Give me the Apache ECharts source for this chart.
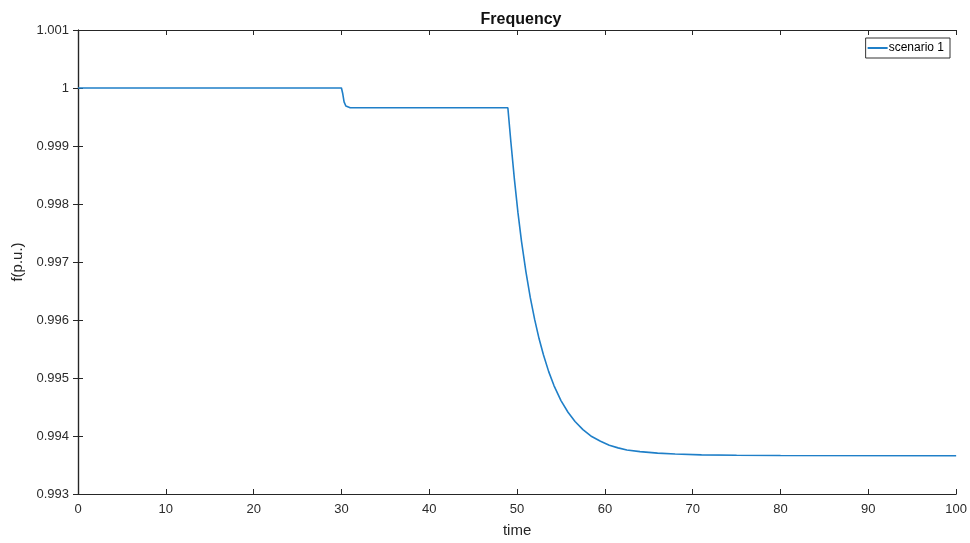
<!DOCTYPE html>
<html>
<head>
<meta charset="utf-8">
<script src="https://cdn.jsdelivr.net/npm/echarts@6/dist/echarts.min.js"></script>
<style>html,body{margin:0;padding:0;background:#fff}#c{width:970px;height:543px}</style>
</head>
<body>
<div id="c"></div>
<script>
const titleText = "Frequency";
const xName = "time";
const yName = "f(p.u.)";
const seriesName = "scenario 1";
const time = [0, 30, 30.15, 30.3, 30.5, 30.7, 31, 31.5, 48.95, 49.3, 49.7, 50.1, 50.5, 51.0, 51.5, 52.0, 52.5, 53.0, 53.6, 54.2, 55.0, 55.8, 56.6, 57.5, 58.5, 59.5, 60.5, 61.5, 62.5, 64, 66, 68, 71, 75, 80, 100];
const freq = [1.0, 1.0, 0.99990, 0.99976, 0.99969, 0.99967, 0.99966, 0.99966, 0.99966, 0.99906, 0.99842, 0.99785, 0.99736, 0.99684, 0.99639, 0.99601, 0.99568, 0.99540, 0.99511, 0.99487, 0.99461, 0.99441, 0.99425, 0.99411, 0.99399, 0.99391, 0.99384, 0.993795, 0.99376, 0.99373, 0.993705, 0.99369, 0.993675, 0.993667, 0.993663, 0.99366];
const xTicks = [0, 10, 20, 30, 40, 50, 60, 70, 80, 90, 100];
const yTicks = [0.993, 0.994, 0.995, 0.996, 0.997, 0.998, 0.999, 1, 1.001];

const chart = echarts.init(document.getElementById('c'));
const axisCol = '#262626';
const fontFam = 'Liberation Sans, Arial, sans-serif';
const labelStyle = { color: '#2b2b2b', fontSize: 13, fontFamily: fontFam };
const fmtY = v => String(parseFloat(Number(v).toFixed(3)));
chart.setOption({
  animation: false,
  title: {
    text: titleText, left: 516, top: 7, textAlign: 'center',
    textStyle: { fontSize: 16, fontWeight: 'bold', color: '#111', fontFamily: fontFam }
  },
  legend: {
    data: [seriesName], right: 20, top: 38,
    orient: 'vertical',
    borderColor: '#333', borderWidth: 1, borderRadius: 0,
    padding: [4, 6, 4, 2], itemWidth: 20, itemHeight: 2, itemGap: 0,
    icon: 'rect',
    textStyle: { fontSize: 12, color: '#000', padding: [0, 0, 0, -4], fontFamily: fontFam }
  },
  grid: { left: 78, right: 13, top: 30, bottom: 47, containLabel: false },
  xAxis: [{
    type: 'value', min: 0, max: 100, interval: 10,
    name: xName, nameLocation: 'middle', nameGap: 29,
    nameTextStyle: { fontSize: 15, color: '#262626', fontFamily: fontFam },
    axisLine: { show: true, lineStyle: { color: axisCol, width: 1.2 } },
    axisTick: { show: true, inside: true, length: 5, lineStyle: { color: axisCol } },
    axisLabel: Object.assign({ margin: 9, showMinLabel: true, showMaxLabel: true }, labelStyle),
    splitLine: { show: false }
  }, {
    type: 'value', min: 0, max: 100, interval: 10, position: 'top',
    axisLine: { show: true, lineStyle: { color: axisCol, width: 1.2 } },
    axisTick: { show: true, inside: true, length: 5, lineStyle: { color: axisCol } },
    axisLabel: { show: false }, splitLine: { show: false }
  }],
  yAxis: [{
    type: 'value', min: 0.993, max: 1.001, interval: 0.001,
    name: yName, nameLocation: 'middle', nameGap: 52, nameRotate: 90,
    nameTextStyle: { fontSize: 15, color: '#262626', fontFamily: fontFam },
    axisLine: { show: true, lineStyle: { color: axisCol, width: 1.2 } },
    axisTick: { show: true, inside: true, length: 5, lineStyle: { color: axisCol } },
    axisLabel: Object.assign({ margin: 9, formatter: fmtY }, labelStyle),
    splitLine: { show: false }
  }, {
    type: 'value', min: 0.993, max: 1.001, interval: 0.001, position: 'right',
    axisLine: { show: true, lineStyle: { color: axisCol, width: 1.2 } },
    axisTick: { show: true, inside: true, length: 5, lineStyle: { color: axisCol } },
    axisLabel: { show: false }, splitLine: { show: false }
  }],
  series: [{
    name: seriesName, type: 'line', xAxisIndex: 0, yAxisIndex: 0,
    data: time.map((t, i) => [t, freq[i]]),
    showSymbol: false, symbol: 'none', smooth: false,
    lineStyle: { color: '#1f7fc8', width: 1.6 },
    itemStyle: { color: '#1f7fc8' }
  }]
});
</script>
</body>
</html>
